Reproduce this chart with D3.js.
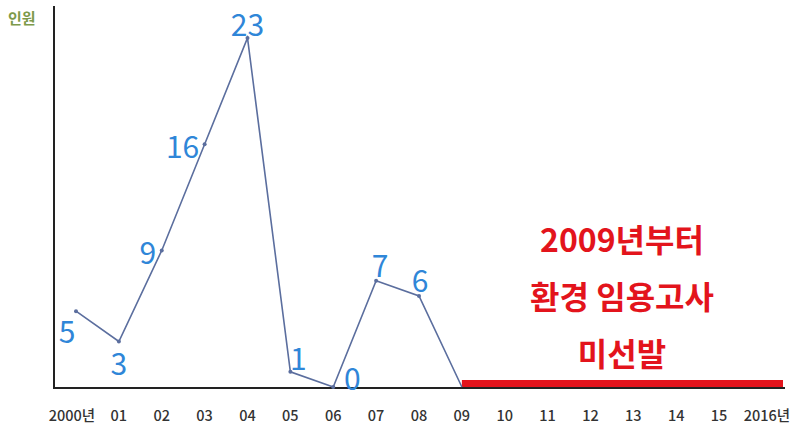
<!DOCTYPE html>
<html><head><meta charset="utf-8">
<script src="https://cdn.jsdelivr.net/npm/d3@7"></script>
<style>body{margin:0;background:#fff}</style>
</head><body>
<svg id="c" width="801" height="430"></svg>
<script>
const years = ["2000년","01","02","03","04","05","06","07","08","09","10","11","12","13","14","15","2016년"];
const values = [5,3,9,16,23,1,0,7,6,0];
const labelOffsets = [[-9,22],[0,24],[-14,4],[-22,4],[0,-12],[8,-12],[19,-7],[4,-14],[1,-14]];
const noteLines = ["2009년부터","환경 임용고사","미선발"];
const yLabel = "인원";

const svg = d3.select("#c");
const x = d3.scaleLinear().domain([0,16]).range([76,762]);
const y = d3.scaleLinear().domain([0,23]).range([387,38]);
const font = "'Noto Sans CJK KR','Noto Sans',sans-serif";

// axes
svg.append("line").attr("x1",54).attr("x2",54).attr("y1",6).attr("y2",389).attr("stroke","#222").attr("stroke-width",2);
svg.append("line").attr("x1",54).attr("x2",785).attr("y1",388).attr("y2",388).attr("stroke","#222").attr("stroke-width",2);

svg.append("text").attr("x",8).attr("y",24).text(yLabel)
  .attr("font-family",font).attr("font-size",15).attr("font-weight",700).attr("fill","#7d9a4a");

svg.selectAll("text.tick").data(years).enter().append("text").attr("class","tick")
  .attr("x",(d,i)=>x(i)+(i===0?-4:(i===16?5:0))).attr("y",421).attr("text-anchor","middle")
  .attr("font-family",font).attr("font-size",14.5).attr("font-weight",500).attr("fill","#333").text(d=>d);

// red bar (no selection since 2009)
svg.append("rect").attr("x",x(9)).attr("y",380).attr("width",783-x(9)).attr("height",7).attr("fill","#e3141c");

// line
const line = d3.line().x((d,i)=>x(i)).y(d=>y(d));
svg.append("path").datum(values).attr("d",line).attr("fill","none").attr("stroke","#5b6e9e").attr("stroke-width",1.6);
svg.selectAll("circle").data(values.slice(0,9)).enter().append("circle")
  .attr("cx",(d,i)=>x(i)).attr("cy",d=>y(d)).attr("r",2).attr("fill","#5b6e9e");

svg.selectAll("text.val").data(values.slice(0,9)).enter().append("text").attr("class","val")
  .attr("x",(d,i)=>x(i)+labelOffsets[i][0]).attr("y",(d,i)=>y(d)+labelOffsets[i][1]+10)
  .attr("text-anchor","middle").attr("font-family",font).attr("font-size",30)
  .attr("fill","#2f86d8").text(d=>d);

svg.selectAll("text.note").data(noteLines).enter().append("text").attr("class","note")
  .attr("x",622).attr("y",(d,i)=>252+i*57).attr("text-anchor","middle")
  .attr("font-family",font).attr("font-size",32).attr("font-weight",700).attr("fill","#e3141c")
  .text(d=>d);
</script>
</body></html>
